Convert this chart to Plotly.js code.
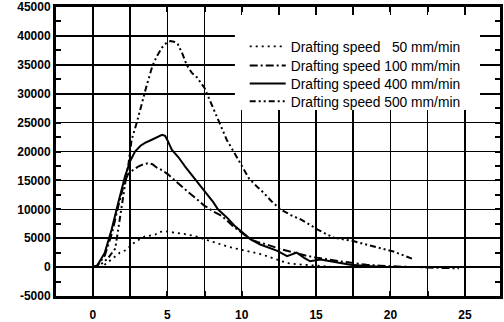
<!DOCTYPE html>
<html>
<head>
<meta charset="utf-8">
<script src="https://cdn.plot.ly/plotly-3.0.1.min.js"></script>
<style>html,body{margin:0;padding:0;background:#fff;}#chart{width:504px;height:322px;}</style>
</head>
<body>
<div id="chart"></div>
<script>
const seriesNames = [
  "Drafting speed \u200750 mm/min",
  "Drafting speed 100 mm/min",
  "Drafting speed 400 mm/min",
  "Drafting speed 500 mm/min"
];

const xTickVals = [-2.5, 0, 2.5, 5, 7.5, 10, 12.5, 15, 17.5, 20, 22.5, 25];
const xTickText = ['', '0', '', '5', '', '10', '', '15', '', '20', '', '25'];
const yTickVals = [-5000, 0, 5000, 10000, 15000, 20000, 25000, 30000, 35000, 40000, 45000];
const yTickText = ['-5000', '0', '5000', '10000', '15000', '20000', '25000', '30000', '35000', '40000', '45000'];

const x50 = [0, 0.47, 0.9, 1.26, 1.82, 2.27, 2.6, 3.0, 3.5, 4.18, 4.5, 4.85, 5.2, 5.53, 6.2, 6.8, 7.4, 7.88, 8.5, 9.0, 9.45, 10.0, 10.6, 11.2, 11.7, 12.4, 13.05, 13.7, 14.4, 15.3, 16.2, 17.0];
const y50 = [0, 0, 600, 1300, 2500, 3000, 3900, 4600, 5300, 5600, 6100, 6200, 6100, 6000, 5700, 5400, 4900, 4400, 4000, 3600, 3300, 3000, 2600, 2300, 1900, 1300, 700, 500, 400, 200, 0, 0];

const x100 = [0, 0.3, 0.8, 1.3, 1.7, 2.1, 2.35, 2.6, 3.05, 3.4, 3.73, 4.0, 4.3, 4.7, 5.07, 5.5, 5.98, 6.4, 6.87, 7.2, 7.5, 7.77, 8.1, 8.56, 9.0, 9.45, 10.0, 10.6, 11.1, 11.7, 12.5, 13.5, 14.3, 15.1, 15.8, 16.6, 17.5, 18.4, 19.3, 20.2, 21.0, 21.8, 22.6, 23.5, 24.6];
const y100 = [0, 200, 2000, 6000, 10500, 14500, 16000, 16600, 17400, 17800, 18000, 17800, 17200, 16700, 16000, 15000, 14000, 13000, 12000, 11200, 10600, 10200, 9600, 9000, 8100, 7000, 5900, 4800, 4300, 3900, 3200, 2500, 2000, 1600, 1300, 1000, 700, 400, 250, 100, 50, 0, -100, -150, -200];

const x400 = [0, 0.3, 0.8, 1.26, 1.7, 2.16, 2.5, 2.83, 3.2, 3.5, 3.85, 4.18, 4.45, 4.65, 4.85, 5.0, 5.3, 5.75, 6.2, 6.8, 7.4, 8.1, 8.4, 9.0, 9.5, 10.1, 10.6, 11.25, 11.7, 12.4, 13.05, 13.4, 13.7, 14.2, 14.6, 15.3, 16.3, 17.3, 18.4, 19.6];
const y400 = [0, 300, 2500, 6500, 11100, 15700, 18300, 20000, 21000, 21500, 21900, 22300, 22600, 22900, 22700, 22000, 20300, 19000, 17400, 15500, 13500, 11200, 10000, 8600, 7200, 5800, 4800, 3900, 3500, 2800, 1900, 2200, 2500, 1600, 1000, 1300, 800, 400, 200, 0];

const x500 = [0, 0.5, 1.0, 1.5, 1.7, 1.95, 2.2, 2.4, 2.6, 2.95, 3.3, 3.6, 4.0, 4.3, 4.65, 4.95, 5.2, 5.45, 5.7, 6.0, 6.3, 6.65, 7.0, 7.5, 8.0, 8.6, 9.0, 9.5, 10.0, 10.5, 11.0, 11.5, 12.0, 12.6, 13.3, 14.0, 14.6, 15.1, 15.7, 16.2, 16.8, 17.5, 18.2, 18.9, 19.6, 20.2, 20.9, 21.6];
const y500 = [0, 400, 1500, 3200, 6500, 11000, 15000, 18000, 22000, 25000, 28500, 31300, 34800, 36500, 38000, 38800, 39100, 39000, 38600, 37000, 35000, 33600, 32800, 31000, 28000, 24400, 22000, 19800, 17500, 15300, 14000, 12800, 11400, 10000, 9000, 8200, 7300, 6500, 5700, 5100, 4800, 4500, 4000, 3600, 3100, 2700, 2000, 1300];

const traces = [
  {x: x50, y: y50, name: seriesNames[0], legend: 'legend', mode: 'lines', line: {color: '#000', width: 1.8, dash: '2px,4px'}},
  {x: x100, y: y100, name: seriesNames[1], legend: 'legend2', mode: 'lines', line: {color: '#000', width: 2, dash: '8px,3px,2px,3px'}},
  {x: x400, y: y400, name: seriesNames[2], legend: 'legend3', mode: 'lines', line: {color: '#000', width: 2}},
  {x: x500, y: y500, name: seriesNames[3], legend: 'legend4', mode: 'lines', line: {color: '#000', width: 2, dash: '6px,3px,2px,3px,2px,3px'}}
];

const tickFont = {family: 'Liberation Sans, Arial, sans-serif', size: 12, color: '#000', weight: 'bold'};
const legFont = {family: 'Liberation Sans, Arial, sans-serif', size: 13.8, color: '#000'};
function leg(y) {
  return {x: 0.425, y: y, xanchor: 'left', yanchor: 'top', bgcolor: 'rgba(0,0,0,0)', borderwidth: 0, font: legFont, itemwidth: 36};
}

const layout = {
  width: 504, height: 322,
  margin: {l: 56, r: 4, t: 7, b: 26},
  paper_bgcolor: '#fff', plot_bgcolor: '#fff',
  showlegend: true,
  legend: leg(0.917),
  legend2: leg(0.851),
  legend3: leg(0.789),
  legend4: leg(0.727),
  shapes: [{
    type: 'rect', xref: 'paper', yref: 'paper', layer: 'above',
    x0: 0.403, x1: 0.955, y0: 0.644, y1: 0.972,
    fillcolor: '#fff', line: {width: 0}
  }],
  xaxis: {
    range: [-2.48, 27.36], tickmode: 'array', tickvals: xTickVals, ticktext: xTickText,
    showgrid: true, gridcolor: '#000', gridwidth: 1.6,
    zeroline: false,
    showline: true, linecolor: '#000', linewidth: 3, mirror: 'allticks',
    ticks: 'inside', ticklen: 5, tickwidth: 2, tickcolor: '#000',
    ticklabeloverflow: 'allow', ticklabelstandoff: 6,
    tickfont: tickFont
  },
  yaxis: {
    range: [-5000, 45000], tickmode: 'array', tickvals: yTickVals, ticktext: yTickText,
    showgrid: true, gridcolor: '#000', gridwidth: 1.6,
    zeroline: false,
    showline: true, linecolor: '#000', linewidth: 3, mirror: 'allticks',
    ticks: 'inside', ticklen: 5, tickwidth: 2, tickcolor: '#000',
    minor: {dtick: 2500, ticks: 'inside', ticklen: 5, tickwidth: 2, tickcolor: '#000', showgrid: false},
    tickfont: tickFont
  }
};

Plotly.newPlot('chart', traces, layout, {displayModeBar: false, staticPlot: true});
</script>
</body>
</html>
